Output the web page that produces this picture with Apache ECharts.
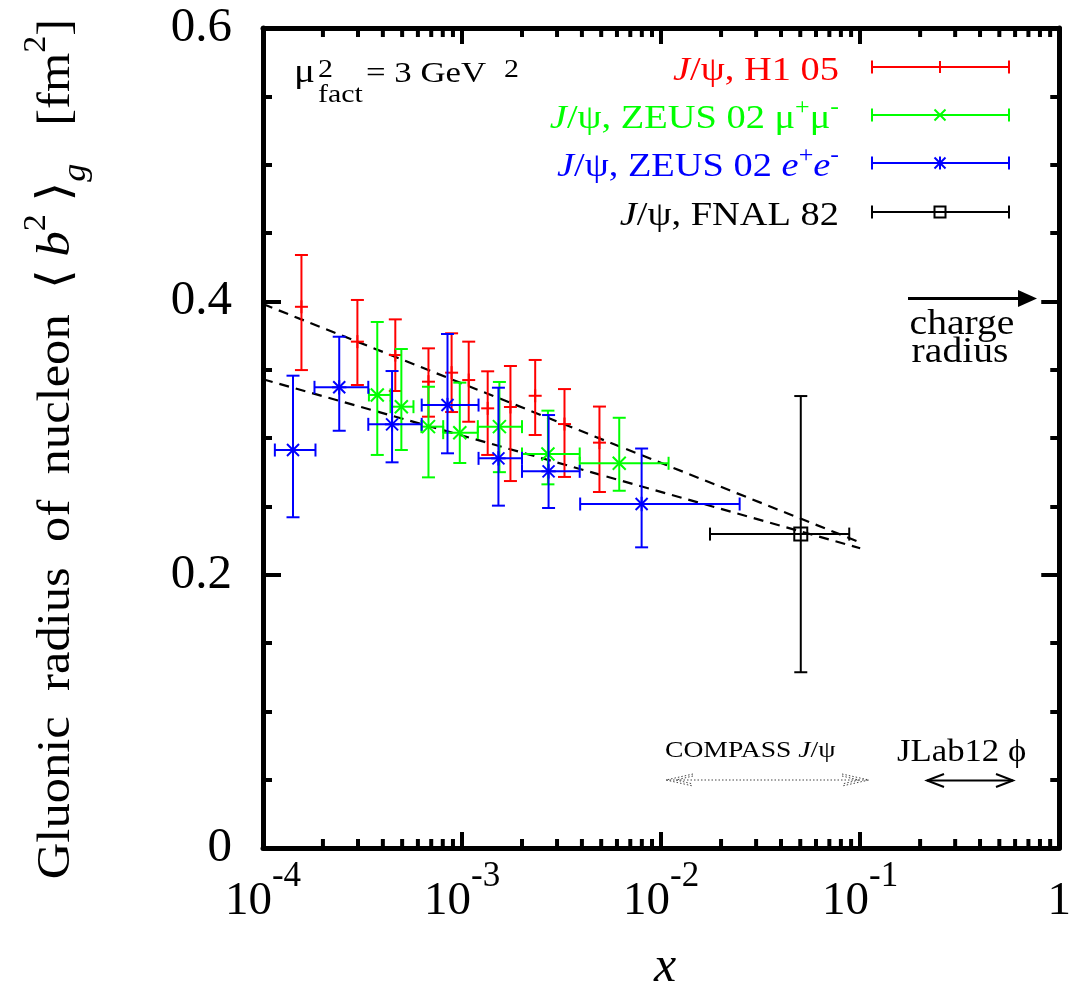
<!DOCTYPE html>
<html><head><meta charset="utf-8">
<script src="https://cdn.jsdelivr.net/npm/echarts@6/dist/echarts.min.js"></script>
<style>html,body{margin:0;padding:0;background:#fff}#c{width:1074px;height:990px}</style>
</head><body><div id="c"></div>
<script>
// ---- data ----
// J/psi H1 05 (vertical errors only)
const h1X    = [1.56e-4, 2.98e-4, 4.62e-4, 6.78e-4, 8.86e-4, 1.08e-3, 1.345e-3, 1.75e-3, 2.33e-3, 3.27e-3, 4.9e-3];
const h1Y    = [0.396, 0.3705, 0.3607, 0.3412, 0.3478, 0.3424, 0.3217, 0.3227, 0.3309, 0.3102, 0.2966];
const h1YLo  = [0.3497, 0.3388, 0.3344, 0.3156, 0.319, 0.3119, 0.2876, 0.2685, 0.3022, 0.2715, 0.2605];
const h1YHi  = [0.4339, 0.401, 0.3868, 0.3656, 0.3766, 0.3705, 0.3488, 0.3527, 0.3571, 0.3358, 0.323];
// J/psi ZEUS 02 mu+mu-
const zmX    = [3.75e-4, 4.955e-4, 6.78e-4, 9.74e-4, 1.54e-3, 2.7e-3, 6.16e-3];
const zmXLo  = [3.405e-4, 4.37e-4, 6.25e-4, 8.04e-4, 1.2e-3, 2.0e-3, 3.9e-3];
const zmXHi  = [4.37e-4, 5.7e-4, 8.04e-4, 1.2e-3, 2.0e-3, 3.9e-3, 1.09e-2];
const zmY    = [0.3315, 0.3229, 0.3083, 0.3039, 0.3083, 0.2883, 0.2815];
const zmYLo  = [0.2876, 0.2912, 0.2712, 0.2817, 0.275, 0.2661, 0.2614];
const zmYHi  = [0.3849, 0.3651, 0.3375, 0.3405, 0.341, 0.32, 0.3148];
// J/psi ZEUS 02 e+e-
const zeX    = [1.415e-4, 2.415e-4, 4.45e-4, 8.45e-4, 1.523e-3, 2.72e-3, 7.98e-3];
const zeXLo  = [1.147e-4, 1.814e-4, 3.38e-4, 6.27e-4, 1.21e-3, 2.0e-3, 3.92e-3];
const zeXHi  = [1.835e-4, 3.38e-4, 6.27e-4, 1.21e-3, 2.0e-3, 3.9e-3, 2.48e-2];
const zeY    = [0.2912, 0.3371, 0.31, 0.3241, 0.2851, 0.2756, 0.2517];
const zeYLo  = [0.242, 0.3053, 0.2822, 0.2888, 0.2505, 0.2488, 0.22];
const zeYHi  = [0.3456, 0.3741, 0.349, 0.3761, 0.3368, 0.3168, 0.2923];
// J/psi FNAL 82
const fnX    = [5.03e-2];
const fnXLo  = [1.76e-2];
const fnXHi  = [8.81e-2];
const fnY    = [0.2297];
const fnYLo  = [0.1286];
const fnYHi  = [0.3307];
// dashed fit lines (end points)
const fitUpper = [[1e-4, 0.398], [0.1, 0.2236]];
const fitLower = [[1e-4, 0.343], [0.1, 0.2193]];
// axis
const xMin = 1e-4, xMax = 1;
const yMin = 0, yMax = 0.6, yStep = 0.2;
const xMinorTicks = [];
for (let e = -4; e < 0; e++) for (let k = 2; k <= 9; k++) xMinorTicks.push([k * Math.pow(10, e), 0]);

// ---- layout / style ----
const FONT = "'Liberation Serif','Times New Roman','DejaVu Serif',serif";
const L = 263, T = 28, W = 805, H = 820;
const RED = '#ff0000', GREEN = '#00ff00', BLUE = '#0000ff', BLACK = '#000000';

function rows(xs, ys, xlo, xhi, ylo, yhi) {
  return xs.map((x, i) => [x, ys[i], xlo ? xlo[i] : x, xhi ? xhi[i] : x, ylo[i], yhi[i]]);
}
function ln(x1, y1, x2, y2, color, w) {
  return {type: 'line', shape: {x1, y1, x2, y2}, style: {stroke: color, lineWidth: w || 2, fill: null}};
}
function marker(kind, cx, cy, color, s) {
  if (kind === 'plus') return [ln(cx - s, cy, cx + s, cy, color), ln(cx, cy - s, cx, cy + s, color)];
  if (kind === 'vtick') return [ln(cx, cy - s, cx, cy + s, color)];
  if (kind === 'cross') return [ln(cx - s, cy - s, cx + s, cy + s, color), ln(cx - s, cy + s, cx + s, cy - s, color)];
  if (kind === 'star') return [ln(cx - s, cy - s, cx + s, cy + s, color), ln(cx - s, cy + s, cx + s, cy - s, color),
                               ln(cx, cy - s * 1.2, cx, cy + s * 1.2, color), ln(cx - s * 1.2, cy, cx + s * 1.2, cy, color)];
  if (kind === 'square') return [{type: 'rect', shape: {x: cx - s, y: cy - s, width: 2 * s, height: 2 * s},
                                  style: {stroke: color, lineWidth: 2, fill: null}}];
  return [];
}
function errSeries(name, data, color, kind, ms) {
  const cap = 6.5;
  return {
    type: 'custom', name, data, clip: false, z: 5,
    encode: {x: 0, y: 1},
    renderItem(params, api) {
      const x = api.value(0), y = api.value(1);
      const c = api.coord([x, y]);
      const yt = api.coord([x, api.value(5)])[1];
      const yb = api.coord([x, api.value(4)])[1];
      const xl = api.coord([api.value(2), y])[0];
      const xr = api.coord([api.value(3), y])[0];
      const ch = [ln(c[0], yt, c[0], yb, color), ln(c[0] - cap, yt, c[0] + cap, yt, color), ln(c[0] - cap, yb, c[0] + cap, yb, color)];
      if (xr - xl > 1) {
        ch.push(ln(xl, c[1], xr, c[1], color), ln(xl, c[1] - cap, xl, c[1] + cap, color), ln(xr, c[1] - cap, xr, c[1] + cap, color));
      }
      ch.push(...marker(kind, c[0], c[1], color, ms));
      return {type: 'group', children: ch};
    }
  };
}

const axisLineStyle = {show: true, onZero: false, lineStyle: {color: '#000', width: 5}};
const xRich = {
  b: {fontFamily: FONT, fontSize: 47, color: '#000', lineHeight: 86},
  s: {fontFamily: FONT, fontSize: 35, color: '#000', lineHeight: 34, verticalAlign: 'top'}
};
function fmtX(v) {
  const e = Math.round(Math.log10(v));
  if (e === 0) return '{b|1}';
  return '{b|10}{s|' + e + '}';
}
function xAxisDef(pos) {
  return {
    type: 'log', logBase: 10, min: xMin, max: xMax, position: pos,
    axisLine: axisLineStyle,
    axisTick: {show: true, inside: true, length: 16, lineStyle: {color: '#000', width: 4}},
    axisLabel: {show: pos === 'bottom', margin: 11, formatter: fmtX, rich: xRich, hideOverlap: false,
                showMinLabel: true, showMaxLabel: true},
    splitLine: {show: false}, minorTick: {show: false}
  };
}
function yAxisDef(pos) {
  return {
    type: 'value', min: yMin, max: yMax, interval: yStep, position: pos,
    axisLine: axisLineStyle,
    axisTick: {show: true, inside: true, length: 18, lineStyle: {color: '#000', width: 4}},
    minorTick: {show: true, splitNumber: 4, length: 9, lineStyle: {color: '#000', width: 4}},
    axisLabel: {show: pos === 'left', margin: 31, fontFamily: FONT, fontSize: 49, color: '#000',
                formatter: v => (v === 0 ? '0' : v.toFixed(1))},
    splitLine: {show: false}, minorSplitLine: {show: false}
  };
}

// ---- graphics (annotations, legend, titles) ----
const graphics = [];
function txt(x, y, text, opt) {
  graphics.push(Object.assign({type: 'text', x, y, z: 10,
    style: Object.assign({text, fontFamily: FONT, fill: '#000', align: 'left', verticalAlign: 'middle'}, opt.style || {})},
    opt.el || {}));
}
// y-axis title
graphics.push({
  type: 'text', x: 57, y: 449, rotation: Math.PI / 2, z: 10, scaleX: 1.1,
  style: {
    text: '{t|Gluonic  radius  of  nucleon  \u27E8 }{i|b}{p|2}{t| \u27E9}{g|g}{t|   [fm}{p|2}{t|]}',
    align: 'center', verticalAlign: 'middle',
    rich: {
      t: {fontFamily: FONT, fontSize: 46, fill: '#000', lineHeight: 72},
      i: {fontFamily: FONT, fontSize: 46, fontStyle: 'italic', fill: '#000', lineHeight: 72},
      p: {fontFamily: FONT, fontSize: 31, fill: '#000', lineHeight: 30, verticalAlign: 'top'},
      g: {fontFamily: FONT, fontSize: 33, fontStyle: 'italic', fill: '#000', lineHeight: 34, verticalAlign: 'bottom'}
    }
  }
});
// x-axis title
txt(665, 968, 'x', {style: {fontSize: 50, fontStyle: 'italic', align: 'center'}});
// mu_fact annotation
txt(294, 73, '\u03BC', {style: {fontSize: 34}, el: {scaleX: 1.15}});
txt(318, 70, '2', {style: {fontSize: 26}, el: {scaleX: 1.15}});
txt(318, 95, 'fact', {style: {fontSize: 26}, el: {scaleX: 1.15}});
txt(366, 74, '= 3 GeV', {style: {fontSize: 29}, el: {scaleX: 1.2}});
txt(504, 70, '2', {style: {fontSize: 26}, el: {scaleX: 1.15}});
// legend
const legendRich = (col) => ({
  t: {fontFamily: FONT, fontSize: 34, fill: col, lineHeight: 46},
  i: {fontFamily: FONT, fontSize: 34, fontStyle: 'italic', fill: col, lineHeight: 46},
  p: {fontFamily: FONT, fontSize: 23, fill: col, lineHeight: 22, verticalAlign: 'top'}
});
const legendRows = [
  {text: '{i|J}{t|/\u03C8, H1 05}', color: RED, kind: 'vtick', y: 67},
  {text: '{i|J}{t|/\u03C8, ZEUS 02 \u03BC}{p|+}{t|\u03BC}{p|-}', color: GREEN, kind: 'cross', y: 115},
  {text: '{i|J}{t|/\u03C8, ZEUS 02 }{i|e}{p|+}{i|e}{p|-}', color: BLUE, kind: 'star', y: 163},
  {text: '{i|J}{t|/\u03C8, FNAL 82}', color: BLACK, kind: 'square', y: 212}
];
legendRows.forEach(r => {
  graphics.push({type: 'text', x: 839, y: r.y + 4, z: 10, scaleX: 1.13,
    style: {text: r.text, align: 'right', verticalAlign: 'middle', rich: legendRich(r.color)}});
  const ch = [ln(872, r.y, 1009, r.y, r.color), ln(872, r.y - 6.5, 872, r.y + 6.5, r.color), ln(1009, r.y - 6.5, 1009, r.y + 6.5, r.color)];
  ch.push(...marker(r.kind, 940, r.y, r.color, r.kind === 'vtick' ? 6 : 5.5));
  graphics.push({type: 'group', z: 10, children: ch});
});
// charge radius arrow
graphics.push({type: 'group', z: 10, children: [
  ln(908, 298.5, 1020, 298.5, '#000', 3),
  {type: 'polygon', shape: {points: [[1018, 290], [1037, 298.5], [1018, 307]]}, style: {fill: '#000'}}
]});
txt(962, 325, 'charge', {style: {fontSize: 36, align: 'center'}, el: {scaleX: 1.1}});
txt(960, 353, 'radius', {style: {fontSize: 36, align: 'center'}, el: {scaleX: 1.1}});
// COMPASS
txt(665, 751, '', {style: {text: '{t|COMPASS }{i|J}{t|/\u03C8}',
  rich: {t: {fontFamily: FONT, fontSize: 23, fill: '#000'}, i: {fontFamily: FONT, fontSize: 23, fontStyle: 'italic', fill: '#000'}}}, el: {scaleX: 1.2}});
const dotted = {stroke: '#444', lineWidth: 1, lineDash: [1.5, 2], fill: null};
graphics.push({type: 'group', z: 10, children: [
  {type: 'line', shape: {x1: 666, y1: 780, x2: 869, y2: 780}, style: dotted},
  {type: 'polyline', shape: {points: [[693, 774], [666, 780], [693, 786]]}, style: dotted},
  {type: 'polyline', shape: {points: [[842, 774], [869, 780], [842, 786]]}, style: dotted},
  {type: 'polyline', shape: {points: [[693, 776], [676, 780], [693, 784]]}, style: dotted},
  {type: 'polyline', shape: {points: [[842, 776], [859, 780], [842, 784]]}, style: dotted}
]});
// JLab12
txt(897, 753, 'JLab12 \u03D5', {style: {fontSize: 31}, el: {scaleX: 1.12}});
graphics.push({type: 'group', z: 10, children: [
  ln(927, 780.5, 1013, 780.5, '#000', 2),
  {type: 'polyline', shape: {points: [[944, 774], [927, 780.5], [944, 787]]}, style: {stroke: '#000', lineWidth: 2, fill: null}},
  {type: 'polyline', shape: {points: [[996, 774], [1013, 780.5], [996, 787]]}, style: {stroke: '#000', lineWidth: 2, fill: null}}
]});

const option = {
  animation: false,
  backgroundColor: '#ffffff',
  grid: {left: L, top: T, width: W, height: H},
  xAxis: [xAxisDef('bottom'), xAxisDef('top')],
  yAxis: [yAxisDef('left'), yAxisDef('right')],
  series: [
    {type: 'line', data: fitUpper, symbol: 'none', z: 3, lineStyle: {color: '#000', width: 2.2, type: [10, 7]}},
    {type: 'line', data: fitLower, symbol: 'none', z: 3, lineStyle: {color: '#000', width: 2.2, type: [10, 7]}},
    errSeries('H1 05', rows(h1X, h1Y, null, null, h1YLo, h1YHi), RED, 'plus', 6.5),
    errSeries('ZEUS mumu', rows(zmX, zmY, zmXLo, zmXHi, zmYLo, zmYHi), GREEN, 'cross', 6.5),
    errSeries('ZEUS ee', rows(zeX, zeY, zeXLo, zeXHi, zeYLo, zeYHi), BLUE, 'star', 6),
    errSeries('FNAL 82', rows(fnX, fnY, fnXLo, fnXHi, fnYLo, fnYHi), BLACK, 'square', 6.5),
    {
      type: 'custom', name: 'xminor', data: xMinorTicks, clip: false, z: 6, encode: {x: 0},
      renderItem(params, api) {
        const px = api.coord([api.value(0), 0])[0];
        const cs = params.coordSys;
        return {type: 'group', children: [
          ln(px, cs.y + cs.height, px, cs.y + cs.height - 9, '#000', 4),
          ln(px, cs.y, px, cs.y + 9, '#000', 4)
        ]};
      }
    }
  ],
  graphic: graphics
};
const chart = echarts.init(document.getElementById('c'), null, {renderer: 'canvas'});
chart.setOption(option);
</script>
</body></html>
